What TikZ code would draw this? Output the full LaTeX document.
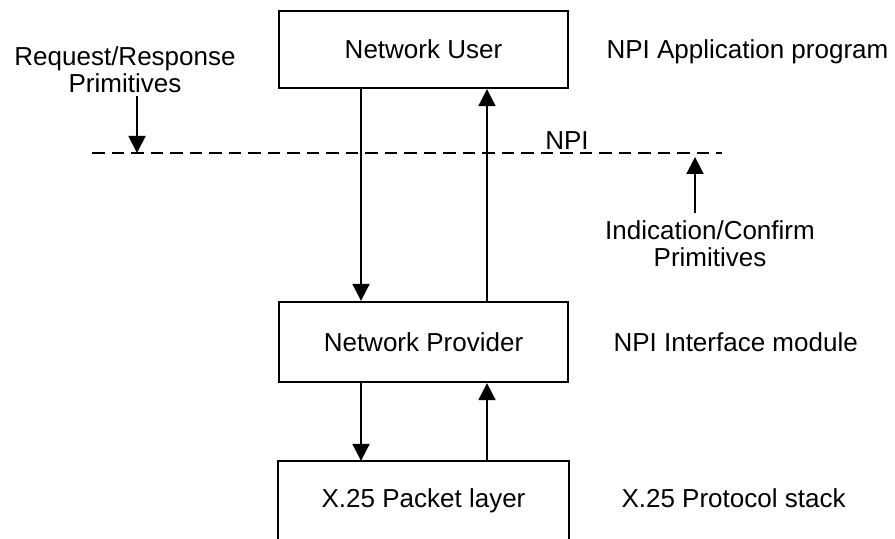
\documentclass[tikz,border=0pt]{standalone}
\usepackage{fontspec}
\setmainfont{Liberation Sans}
\usepackage{tikz}
\usetikzlibrary{positioning, calc, arrows.meta}

\begin{document}
\begin{tikzpicture}[layer/.style={
                draw,
                line width=1.3pt,
                minimum width=5.78cm,
                minimum height=1.54cm,
                inner sep=0pt,
        },
        sidetext/.style={inner sep=0pt},
        note/.style={align=center},
        flow/.style={line width=1.1pt, -{Triangle[length=0.34cm, width=0.34cm]}},
        font=\fontsize{14.8}{15.5}\selectfont]
            \useasboundingbox (0, 0) rectangle (17.9, 10.78);
            % the three layers
            \node[layer] (user) at (8.47, 9.79) {Network User};
            \node[layer, minimum height=1.6cm] (provider) at (8.47, 3.94) {Network Provider};
            \node[layer, draw=none] (packet) at (8.47, 0.77) {X.25 Packet layer};
            \draw[line width=1.3pt] (packet.south west) -- (packet.north west) -- (packet.north east) -- (packet.south east);
            \node[sidetext, base right=0.74cm of user] (app) {NPI Application program};
            \node[sidetext, base right=0.88cm of provider] (iface) {NPI Interface module};
            \node[sidetext, base right=1.04cm of packet] (stack) {X.25 Protocol stack};
            % the interface line
            \coordinate (npileft) at (1.84, 7.72);
            \coordinate (npiright) at (14.44, 7.72);
            \draw[line width=1.1pt, dash pattern=on 0.25cm off 0.14cm] (npileft) -- (npiright);
            \node[anchor=south, inner sep=2pt] (npi) at (11.34, 7.72) {NPI};
            % primitives
            \node[note, anchor=south, inner sep=2pt] (req) at (2.5, 8.85) {Request/Response\\Primitives};
            \coordinate (reqtip) at (2.74, 7.72);
            \draw[flow] (req.south -| reqtip) -- (reqtip);
            \node[note, anchor=north, inner sep=4pt] (ind) at (14.2, 6.52) {Indication/Confirm\\Primitives};
            \coordinate (indtip) at (13.9, 7.64);
            \draw[flow] (ind.north -| indtip) -- (indtip);
            % down and up between the layers
            \draw[flow] ([xshift=-1.25cm]user.south) -- ([xshift=-1.25cm]provider.north);
            \draw[flow] ([xshift=1.27cm]provider.north) -- ([xshift=1.27cm]user.south);
            \draw[flow] ([xshift=-1.25cm]provider.south) -- ([xshift=-1.25cm]packet.north);
            \draw[flow] ([xshift=1.27cm]packet.north) -- ([xshift=1.27cm]provider.south);
        \end{tikzpicture}
\end{document}
